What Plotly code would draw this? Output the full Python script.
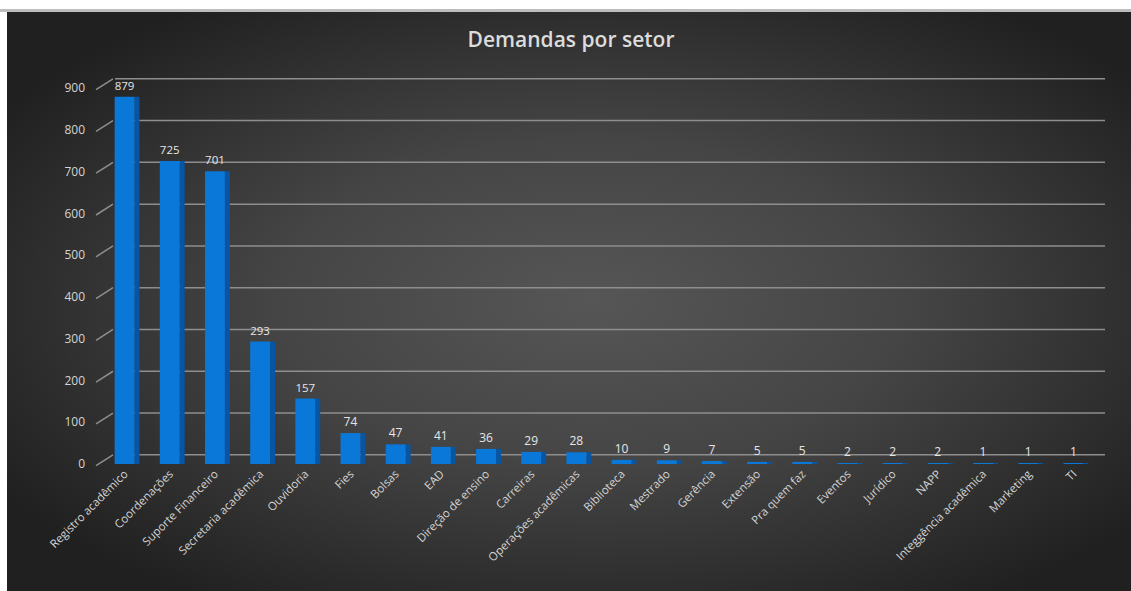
import base64
import plotly.graph_objects as go

categories = ["Registro acadêmico", "Coordenações", "Suporte Financeiro", "Secretaria acadêmica",
              "Ouvidoria", "Fies", "Bolsas", "EAD", "Direção de ensino", "Carreiras",
              "Operações acadêmicas", "Biblioteca", "Mestrado", "Gerência", "Extensão",
              "Pra quem faz", "Eventos", "Jurídico", "NAPP", "Integgência acadêmica",
              "Marketing", "TI"]
values = [879, 725, 701, 293, 157, 74, 47, 41, 36, 29, 28, 10, 9, 7, 5, 5, 2, 2, 2, 1, 1, 1]
y_ticks = [0, 100, 200, 300, 400, 500, 600, 700, 800, 900]

W, H = 1131, 591
ML, MR, MT, MB = 102, 35, 88, 127
PW, PH = W - ML - MR, H - MT - MB
Y_MAX = 900
DEPTH = 22  # back-wall offset in data units (3D look)

# radial gradient background as an SVG image
svg = f'''<svg xmlns="http://www.w3.org/2000/svg" width="1124" height="579" viewBox="0 0 1124 579" preserveAspectRatio="none">
<defs><radialGradient id="g" cx="0.52" cy="0.5" r="0.62">
<stop offset="0" stop-color="#565656"/><stop offset="0.45" stop-color="#454545"/>
<stop offset="1" stop-color="#202020"/></radialGradient></defs>
<rect width="1124" height="579" fill="url(#g)"/></svg>'''
src = "data:image/svg+xml;base64," + base64.b64encode(svg.encode()).decode()

fig = go.Figure()
fig.add_trace(go.Bar(x=categories, y=values, width=0.11, offset=0.22,
                     marker=dict(color="#0855a3", line=dict(width=0)),
                     hoverinfo="skip", showlegend=False))
fig.add_trace(go.Bar(x=categories, y=values, width=0.44, offset=-0.22,
                     marker=dict(color="#0a78d8", line=dict(width=0)),
                     text=[str(v) for v in values], textposition="outside",
                     textfont=dict(color="#e6e6e6", size=12, family="Open Sans"),
                     cliponaxis=False, showlegend=False))

shapes = [dict(type="rect", xref="paper", yref="paper", layer="below",
               x0=(0 - ML) / PW, x1=(W - ML) / PW,
               y0=(H - MB - 12) / PH, y1=(H - MB - 9) / PH,
               fillcolor="#bdbdbd", line=dict(width=0))]
for v in y_ticks:
    yb = (v + DEPTH) / Y_MAX
    shapes.append(dict(type="line", layer="below", xref="paper", yref="paper",
                       x0=(115 - ML) / PW, x1=(1105 - ML) / PW, y0=yb, y1=yb,
                       line=dict(color="#8e8e8e", width=1.5)))
    shapes.append(dict(type="line", layer="below", xref="paper", yref="paper",
                       x0=(96 - ML) / PW, x1=(113 - ML) / PW, y0=(v - 4) / Y_MAX, y1=yb,
                       line=dict(color="#8e8e8e", width=1.5)))

fig.update_layout(
    width=W, height=H,
    margin=dict(l=ML, r=MR, t=MT, b=MB, pad=0),
    paper_bgcolor="white", plot_bgcolor="rgba(0,0,0,0)",
    barmode="overlay", bargap=0.5,
    title=dict(text="Demandas por setor", x=(571 - ML) / PW, xref="paper", xanchor="center",
               y=1 - 40 / H, yanchor="middle",
               font=dict(family="Open Sans", size=21, color="#dcdcdc", weight=600)),
    xaxis=dict(tickangle=-45, tickfont=dict(family="Open Sans", size=11.5, color="#d4d4d4"),
               showgrid=False, showline=False, zeroline=False, ticks=""),
    yaxis=dict(range=[0, Y_MAX], tickvals=y_ticks, showgrid=False, zeroline=False,
               showline=False, ticks="", ticklabelstandoff=16,
               tickfont=dict(family="Open Sans", size=12, color="#d4d4d4")),
    shapes=shapes,
    images=[dict(source=src, xref="paper", yref="paper",
                 x=(7 - ML) / PW, y=(H - MB - 12) / PH,
                 sizex=(W - 7) / PW, sizey=(H - 12) / PH,
                 xanchor="left", yanchor="top", sizing="stretch", layer="below")],
)

fig.write_html("out.html", config={"displayModeBar": False},
               post_script="document.body.style.margin='0';document.body.style.overflow='hidden';")
